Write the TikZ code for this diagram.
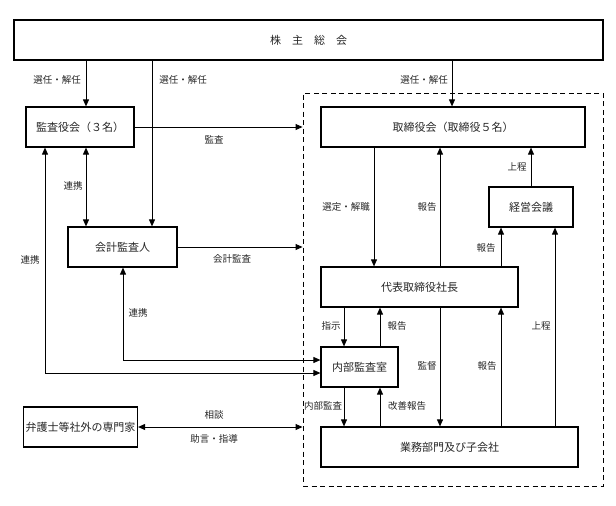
\documentclass[tikz,border=0pt]{standalone}
\usepackage{fontspec}
\setmainfont{Noto Sans CJK JP}
\usetikzlibrary{positioning, arrows.meta}

\begin{document}
\begin{tikzpicture}[
  x=1pt, y=-1pt,
  org/.style={draw, line width=1.2pt, minimum height=40pt, align=center,
              font=\fontsize{11}{13}\selectfont, text=black!85, inner sep=2pt},
  grp/.style={draw, dashed, dash pattern=on 5pt off 3.5pt, line width=0.9pt},
  lbl/.style={font=\fontsize{9.5}{11}\selectfont, text=black!85, inner sep=1pt},
  arr/.style={line width=0.9pt, -{Triangle[length=7pt,width=6pt]}},
  dbl/.style={line width=0.9pt, {Triangle[length=7pt,width=6pt]}-{Triangle[length=7pt,width=6pt]}},
]
  \useasboundingbox (0,0) rectangle (616,506);

  % dashed group (board side)
  \node[grp, minimum width=300pt, minimum height=393pt] (grp) at (453,289.5) {};

  % boxes
  \node[org, minimum width=589pt] (kabu) at (308.5,40) {株　主　総　会};
  \node[org, minimum width=108pt] (kansa) at (80,127) {監査役会（３名）};
  \node[org, minimum width=264pt] (tori) at (453,127) {取締役会（取締役５名）};
  \node[org, minimum width=84pt] (keiei) at (531,207) {経営会議};
  \node[org, minimum width=109pt] (kaikei) at (122.5,247) {会計監査人};
  \node[org, minimum width=197pt] (daihyo) at (419.5,287) {代表取締役社長};
  \node[org, minimum width=77pt] (naibu) at (359.5,367) {内部監査室};
  \node[org, minimum width=109pt] (bengo) at (80.5,427) {弁護士等社外の専門家};
  \node[org, minimum width=257pt] (gyomu) at (449.5,447) {業務部門及び子会社};

  % x positions of the vertical lines
  \coordinate (xl) at (45,0);
  \coordinate (xk) at (86,0);
  \coordinate (xc) at (123,0);
  \coordinate (xa) at (152,0);
  \coordinate (xs) at (344,0);
  \coordinate (xd) at (374,0);
  \coordinate (xh) at (380,0);
  \coordinate (xm) at (440,0);
  \coordinate (xt) at (452,0);
  \coordinate (xr) at (501,0);
  \coordinate (xj) at (531,0);
  \coordinate (xg) at (555,0);
  \coordinate (n1) at ([yshift=7pt]naibu.west);
  \coordinate (n2) at ([yshift=-6pt]naibu.west);

  % shareholders
  \draw[arr] (kabu.south -| xk) -- (kansa.north -| xk);
  \draw[arr] (kabu.south -| xa) -- (kaikei.north -| xa);
  \draw[arr] (kabu.south -| xt) -- (tori.north -| xt);
  \node[lbl] (s1) at (57,80) {選任・解任};
  \node[lbl] (s2) at (183,80) {選任・解任};
  \node[lbl] (s3) at (424,80) {選任・解任};

  % audit side
  \draw[arr] (kansa.east) -- (kansa.east -| grp.west);
  \node[lbl] (a1) at (214,140) {監査};
  \draw[dbl] (kansa.south -| xk) -- (kaikei.north -| xk);
  \node[lbl] (a2) at (73,186) {連携};
  \draw[dbl] (kansa.south -| xl) |- (n2);
  \node[lbl] (a3) at (30,260) {連携};
  \draw[arr] (kaikei.east) -- (kaikei.east -| grp.west);
  \node[lbl] (a4) at (232,259) {会計監査};
  \draw[dbl] (kaikei.south -| xc) |- (n1);
  \node[lbl] (a5) at (138,313) {連携};
  \draw[dbl] (bengo.east) -- (bengo.east -| grp.west);
  \node[lbl] (a6) at (214,415) {相談};
  \node[lbl] (a7) at (214,439) {助言・指導};

  % board and management
  \draw[arr] (tori.south -| xd) -- (daihyo.north -| xd);
  \node[lbl] (b1) at (346,207) {選定・解職};
  \draw[arr] (daihyo.north -| xm) -- (tori.south -| xm);
  \node[lbl] (b2) at (427,207) {報告};
  \draw[arr] (keiei.north -| xj) -- (tori.south -| xj);
  \node[lbl] (b3) at (517,167) {上程};
  \draw[arr] (daihyo.north -| xr) -- (keiei.south -| xr);
  \node[lbl] (b4) at (486,248) {報告};

  \draw[arr] (daihyo.south -| xs) -- (naibu.north -| xs);
  \node[lbl] (c1) at (331,326) {指示};
  \draw[arr] (naibu.north -| xh) -- (daihyo.south -| xh);
  \node[lbl] (c2) at (397,326) {報告};
  \draw[arr] (gyomu.north -| xg) -- (keiei.south -| xg);
  \node[lbl] (c3) at (541,326) {上程};
  \draw[arr] (daihyo.south -| xm) -- (gyomu.north -| xm);
  \node[lbl] (c4) at (427,366) {監督};
  \draw[arr] (gyomu.north -| xr) -- (daihyo.south -| xr);
  \node[lbl] (c5) at (487,366) {報告};

  \draw[arr] (naibu.south -| xs) -- (gyomu.north -| xs);
  \node[lbl] (d1) at (323,406) {内部監査};
  \draw[arr] (gyomu.north -| xh) -- (naibu.south -| xh);
  \node[lbl] (d2) at (407,406) {改善報告};

\end{tikzpicture}
\end{document}
